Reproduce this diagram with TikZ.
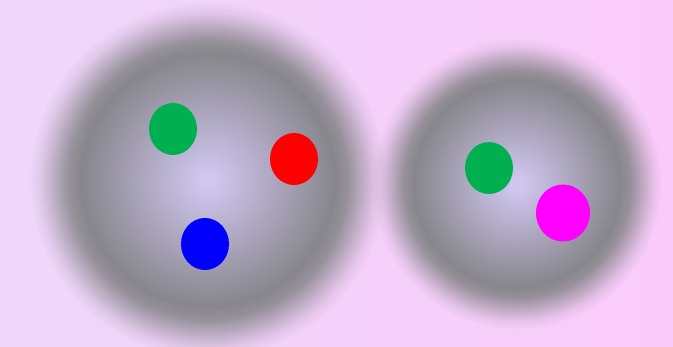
\documentclass[tikz,border=0pt]{standalone}
\usetikzlibrary{shapes.geometric,fadings}

\definecolor{bgleft}{RGB}{238,215,250}
\definecolor{bgright}{RGB}{250,203,250}
\definecolor{cellmid}{RGB}{208,198,240}
\definecolor{cellrim}{RGB}{134,133,138}
\definecolor{spotgreen}{RGB}{0,176,80}
\definecolor{spotred}{RGB}{255,0,0}
\definecolor{spotblue}{RGB}{0,0,255}
\definecolor{spotmagenta}{RGB}{255,0,255}

% 25bp is the rim of the shaded circle
\pgfdeclareradialshading{cellshade}{\pgfpointorigin}{%
  color(0bp)=(cellmid); color(1bp)=(cellmid); color(18bp)=(cellrim); color(50bp)=(cellrim)}
\pgfdeclareradialshading{cellfadeshade}{\pgfpointorigin}{%
  color(0bp)=(white); color(17.5bp)=(white); color(19.5bp)=(black!15!white);
  color(21.5bp)=(black!50!white); color(23.5bp)=(black!85!white);
  color(25bp)=(black); color(50bp)=(black)}
\pgfdeclarefading{cellfade}{\pgfuseshading{cellfadeshade}}

\begin{document}
\begin{tikzpicture}[x=1pt, y=-1pt,
    cell/.style={shading=cellshade, path fading=cellfade},
    spot/.style={ellipse, inner sep=0pt, minimum width=48pt, minimum height=52pt}
]
\useasboundingbox (0,0) rectangle (673,347);
\shade[left color=bgleft, right color=bgright] (0,0) rectangle (673,347);

% the two cells
\coordinate (cellA) at (208,180);
\coordinate (cellB) at (517,184);
\shade[cell] (cellA) circle[radius=178pt];
\shade[cell] (cellB) circle[radius=145pt];

\node[spot, fill=spotgreen] (gA) at (173,129) {};
\node[spot, fill=spotred]   (rA) at (294,159) {};
\node[spot, fill=spotblue]  (bA) at (205,244) {};
\node[spot, fill=spotgreen] (gB) at (489,168) {};
\node[spot, fill=spotmagenta, minimum width=54pt, minimum height=57pt] (mB) at (563,213) {};
\end{tikzpicture}
\end{document}
